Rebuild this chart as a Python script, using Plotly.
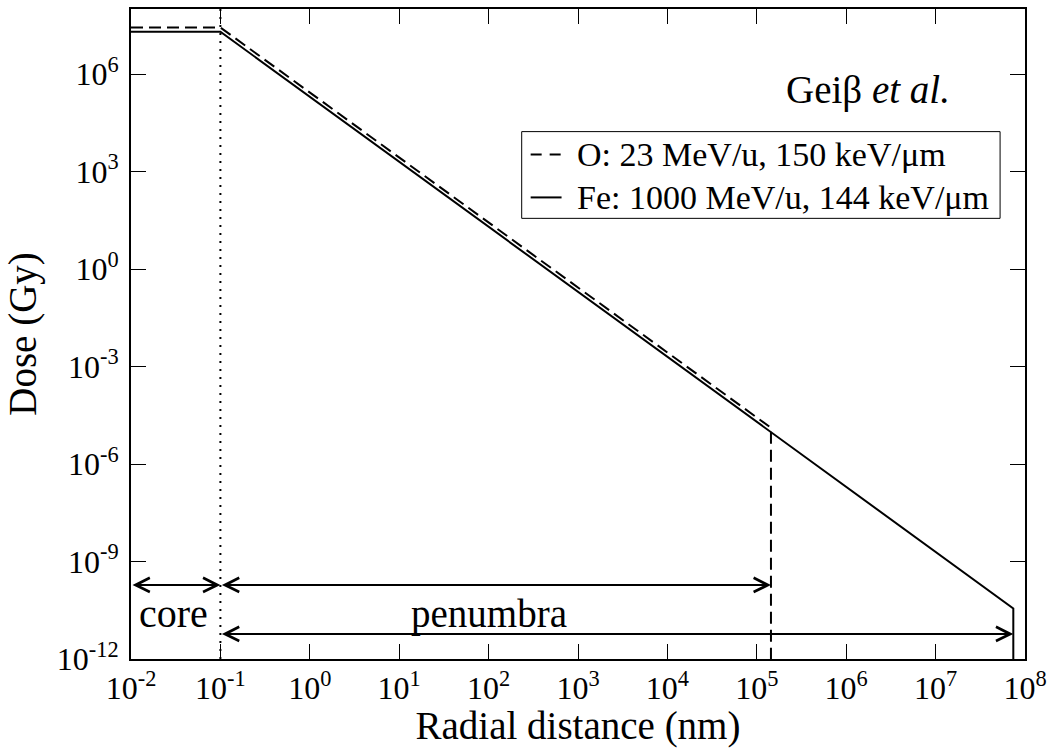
import numpy as np
import plotly.graph_objects as go

# Radial dose profiles (Geiss model): core plateau, r^-2 penumbra, cut-off at r_max
r_O = [0.01, 0.1, 1.44e5, 1.44e5]
dose_O = [2.7e7, 2.7e7, 1.3e-5, 1e-12]
r_Fe = [0.01, 0.1, 7.4e7, 7.4e7]
dose_Fe = [2.0e7, 2.0e7, 3.6e-11, 1e-12]

# core radius and the extents of the two penumbrae
r_core = 0.1
r_min = 0.01
r_max_O = 1.44e5
r_max_Fe = 7.4e7
y_arrow_upper = 1.9e-10
y_arrow_lower = 5.9e-12

x_tick_exp = list(range(-2, 9))
y_tick_exp = list(range(-12, 7, 3))

FONT = "Liberation Serif, Times New Roman, serif"
BLACK = "black"

fig = go.Figure()

fig.add_trace(go.Scatter(x=r_O, y=dose_O, mode="lines",
                         line=dict(color=BLACK, width=2, dash="12px,6px"),
                         showlegend=False))
fig.add_trace(go.Scatter(x=r_Fe, y=dose_Fe, mode="lines",
                         line=dict(color=BLACK, width=2),
                         showlegend=False))
# dotted boundary of the core
fig.add_trace(go.Scatter(x=[r_core, r_core], y=[1e-12, 1e8], mode="lines",
                         line=dict(color=BLACK, width=2, dash="2px,6px"),
                         showlegend=False))

def double_arrow(x0, x1, y):
    fig.add_annotation(x=np.log10(x1), y=np.log10(y), ax=np.log10(x0), ay=np.log10(y),
                       xref="x", yref="y", axref="x", ayref="y",
                       text="", showarrow=True, arrowside="end+start",
                       arrowhead=5, startarrowhead=5, arrowsize=1.4, startarrowsize=1.4,
                       arrowwidth=2, arrowcolor=BLACK, standoff=0, startstandoff=0)

double_arrow(r_min, r_core, y_arrow_upper)
double_arrow(r_core, r_max_O, y_arrow_upper)
double_arrow(r_core, r_max_Fe, y_arrow_lower)

fig.add_annotation(x=-1.52, y=-10.6, xref="x", yref="y", text="core", showarrow=False,
                   font=dict(family=FONT, size=40, color=BLACK))
fig.add_annotation(x=2.0, y=-10.6, xref="x", yref="y", text="penumbra", showarrow=False,
                   font=dict(family=FONT, size=39, color=BLACK))
fig.add_annotation(x=(870 - 131) / 897, y=(659 - 88) / 652, xref="paper", yref="paper",
                   text="Geiβ <i>et al.</i>", showarrow=False, xanchor="center",
                   yanchor="middle",
                   font=dict(family=FONT, size=39, color=BLACK))

# legend box drawn by hand
fig.add_shape(type="rect", xref="paper", yref="paper",
              x0=(523 - 131) / 897, x1=(1003 - 131) / 897,
              y0=(659 - 217) / 652, y1=(659 - 130) / 652,
              line=dict(color=BLACK, width=1), fillcolor="white")
legend_rows = [("O: 23 MeV/u, 150 keV/μm", "dash", 153),
               ("Fe: 1000 MeV/u, 144 keV/μm", "solid", 196)]
for label, dash, ypx in legend_rows:
    yp = (659 - ypx) / 652
    fig.add_shape(type="line", xref="paper", yref="paper",
                  x0=(532 - 131) / 897, x1=(563 - 131) / 897, y0=yp, y1=yp,
                  line=dict(color=BLACK, width=2,
                            dash="11px,8px" if dash == "dash" else "solid"))
    fig.add_annotation(x=(576 - 131) / 897, y=yp, xref="paper", yref="paper",
                       text=label, showarrow=False, xanchor="left", yanchor="middle",
                       font=dict(family=FONT, size=34, color=BLACK))

axis_common = dict(type="log", showline=True, linecolor=BLACK, linewidth=2, mirror="allticks",
                   ticks="inside", ticklen=15, tickwidth=1, tickcolor=BLACK,
                   showgrid=False, zeroline=False,
                   tickfont=dict(family=FONT, size=32, color=BLACK))

fig.update_xaxes(range=[-2, 8],
                 tickvals=[10.0 ** e for e in x_tick_exp],
                 ticktext=[f"10<sup>{e}</sup>" for e in x_tick_exp],
                 title=dict(text="Radial distance (nm)", standoff=3,
                            font=dict(family=FONT, size=39, color=BLACK)),
                 **axis_common)
fig.update_yaxes(range=[-12, 8],
                 tickvals=[10.0 ** e for e in y_tick_exp],
                 ticktext=[f"10<sup>{e}</sup>" for e in y_tick_exp],
                 ticklabelstandoff=4,
                 title=dict(text="Dose (Gy)", standoff=8,
                            font=dict(family=FONT, size=39, color=BLACK)),
                 **axis_common)

fig.update_layout(width=1054, height=748,
                  margin=dict(l=131, r=26, t=7, b=89),
                  plot_bgcolor="white", paper_bgcolor="white",
                  showlegend=False)

fig.write_html("out.html")
